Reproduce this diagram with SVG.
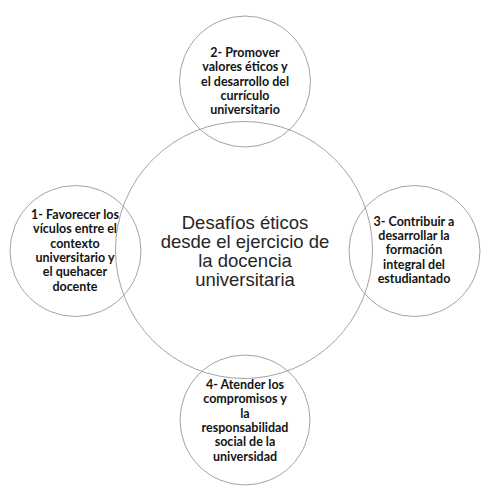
<svg xmlns="http://www.w3.org/2000/svg" width="491" height="495" viewBox="0 0 491 495">
<style>
.c{fill:none;stroke:#a3a3a3;stroke-width:1}
.s{font-family:Lato,"Liberation Sans",sans-serif;font-weight:bold;font-size:12.5px;fill:#141414;text-anchor:middle}
.m{font-family:"Liberation Sans",Arial,sans-serif;font-size:18.5px;fill:#262626;text-anchor:middle}
</style>
<rect width="491" height="495" fill="#fff"/>
<g id="center">
<circle class="c" cx="244" cy="250" r="128.5"/>
<text class="m"><tspan x="245" y="228.5">Desafíos éticos</tspan><tspan x="245" y="247.8">desde el ejercicio de</tspan><tspan x="245" y="267">la docencia</tspan><tspan x="245" y="286.2">universitaria</tspan></text>
</g>
<g id="n2">
<circle class="c" cx="245" cy="81.5" r="65.5"/>
<text class="s"><tspan x="245" y="57">2- Promover</tspan><tspan x="245" y="71.3">valores éticos y</tspan><tspan x="245" y="85.6">el desarrollo del</tspan><tspan x="245" y="99.9">currículo</tspan><tspan x="245" y="114.2">universitario</tspan></text>
</g>
<g id="n1">
<circle class="c" cx="75.5" cy="251" r="65.5"/>
<text class="s"><tspan x="75" y="219">1- Favorecer los</tspan><tspan x="75" y="233.3">vículos entre el</tspan><tspan x="75" y="247.6">contexto</tspan><tspan x="75" y="261.9">universitario y</tspan><tspan x="75" y="276.2">el quehacer</tspan><tspan x="75" y="290.5">docente</tspan></text>
</g>
<g id="n3">
<circle class="c" cx="414.5" cy="251" r="65.5"/>
<text class="s"><tspan x="414" y="225.7">3- Contribuir a</tspan><tspan x="414" y="240">desarrollar la</tspan><tspan x="414" y="254.3">formación</tspan><tspan x="414" y="268.6">integral del</tspan><tspan x="414" y="282.9">estudiantado</tspan></text>
</g>
<g id="n4">
<circle class="c" cx="245" cy="420" r="65"/>
<text class="s"><tspan x="245" y="389">4- Atender los</tspan><tspan x="245" y="403.3">compromisos y</tspan><tspan x="245" y="417.6">la</tspan><tspan x="245" y="431.9">responsabilidad</tspan><tspan x="245" y="446.2">social de la</tspan><tspan x="245" y="460.5">universidad</tspan></text>
</g>
<g id="connectors"></g>
</svg>
